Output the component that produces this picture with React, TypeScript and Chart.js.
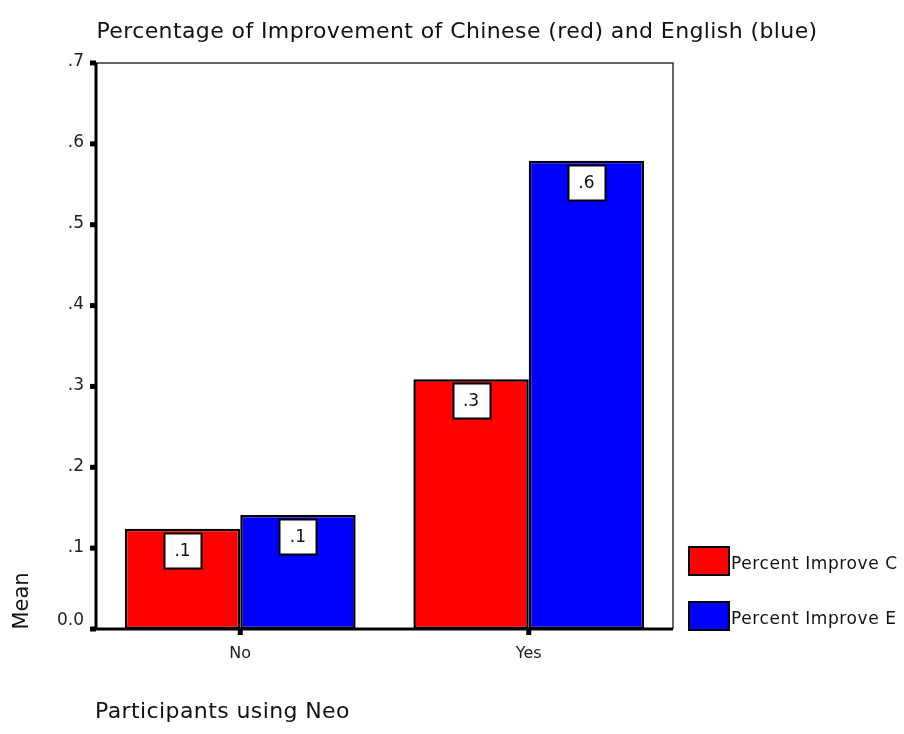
import React, { useEffect, useRef } from "react";
import { Chart, registerables } from "chart.js";
Chart.register(...registerables);

const categories = ["No", "Yes"];
const chineseMeans = [0.124, 0.309];
const englishMeans = [0.141, 0.579];
const seriesLabels = ["Percent Improve C", "Percent Improve E"];
const seriesColors = ["#ff0000", "#0000ff"];
const yTicks = [0, 0.1, 0.2, 0.3, 0.4, 0.5, 0.6, 0.7];
const titleText = "Percentage of Improvement of Chinese (red) and English (blue)";
const xAxisTitle = "Participants using Neo";
const yAxisTitle = "Mean";

const FONT = '"DejaVu Sans", Verdana, sans-serif';

function fmt(v: number): string {
  if (Math.abs(v) < 1e-9) return "0.0";
  return v.toFixed(1).replace(/^0/, "");
}

const decorPlugin = {
  id: "decor",
  afterDatasetsDraw(chart: any) {
    const ctx = chart.ctx;
    ctx.save();
    chart.data.datasets.forEach((ds: any, di: number) => {
      const meta = chart.getDatasetMeta(di);
      meta.data.forEach((bar: any, i: number) => {
        const w = 37, h = 35;
        const x = Math.round(bar.x - w / 2) + 0.5;
        const y = Math.round(bar.y + 4) + 0.5;
        ctx.fillStyle = "#ffffff";
        ctx.fillRect(x, y, w, h);
        ctx.strokeStyle = "#000";
        ctx.lineWidth = 2;
        ctx.strokeRect(x, y, w, h);
        ctx.fillStyle = "#111";
        ctx.font = `17px ${FONT}`;
        ctx.textAlign = "center";
        ctx.textBaseline = "middle";
        ctx.fillText(fmt(ds.data[i]), bar.x, y + h / 2 + 1);
      });
    });
    ctx.restore();
  },
  afterDraw(chart: any) {
    const ctx = chart.ctx;
    const { left, top, right, bottom } = chart.chartArea;
    const ys = chart.scales.y;
    const xs = chart.scales.x;
    ctx.save();
    ctx.strokeStyle = "#333";
    ctx.lineWidth = 1.5;
    ctx.beginPath();
    ctx.moveTo(left, top);
    ctx.lineTo(right, top);
    ctx.lineTo(right, bottom);
    ctx.stroke();
    ctx.strokeStyle = "#000";
    ctx.lineWidth = 3;
    ctx.beginPath();
    ctx.moveTo(left, top);
    ctx.lineTo(left, bottom);
    ctx.lineTo(right, bottom);
    ctx.stroke();

    // y ticks
    ctx.font = `17px ${FONT}`;
    ctx.textAlign = "right";
    ctx.textBaseline = "middle";
    yTicks.forEach((v) => {
      const py = ys.getPixelForValue(v);
      ctx.fillStyle = "#000";
      ctx.fillRect(left - 6, py - 2.5, 6, 5);
      ctx.fillStyle = "#222";
      ctx.fillText(fmt(v), left - 12, v === 0 ? py - 8 : py - 1);
    });
    // x ticks
    ctx.font = `16px ${FONT}`;
    ctx.textAlign = "center";
    categories.forEach((c, i) => {
      const px = xs.getPixelForValue(i);
      ctx.fillStyle = "#000";
      ctx.fillRect(px - 2.5, bottom, 5, 6);
      ctx.fillStyle = "#222";
      ctx.fillText(c, px, bottom + 25);
    });

    // title
    ctx.fillStyle = "#111";
    ctx.font = `22px ${FONT}`;
    (ctx as any).letterSpacing = "0.4px";
    ctx.textAlign = "center";
    ctx.fillText(titleText, 457, 32);
    ctx.textAlign = "left";
    ctx.fillText(xAxisTitle, 95, 712);
    (ctx as any).letterSpacing = "0px";
    ctx.save();
    ctx.translate(23, 601);
    ctx.rotate(-Math.PI / 2);
    ctx.textAlign = "center";
    ctx.font = `21px ${FONT}`;
    ctx.fillText(yAxisTitle, 0, 0);
    ctx.restore();

    // legend
    ctx.font = `17px ${FONT}`;
    (ctx as any).letterSpacing = "0.6px";
    ctx.textAlign = "left";
    ctx.textBaseline = "middle";
    chart.data.datasets.forEach((ds: any, di: number) => {
      const by = [547, 602][di];
      ctx.fillStyle = ds.backgroundColor;
      ctx.fillRect(689, by, 40, 28);
      ctx.strokeStyle = "#000";
      ctx.lineWidth = 2;
      ctx.strokeRect(689, by, 40, 28);
      ctx.fillStyle = "#111";
      ctx.fillText(ds.label, 731, by + 18);
    });
    (ctx as any).letterSpacing = "0px";
    ctx.restore();
  },
};

export default function App() {
  const ref = useRef<HTMLCanvasElement>(null);
  useEffect(() => {
    if (!ref.current) return;
    const chart = new Chart(ref.current, {
      type: "bar",
      data: {
        labels: categories,
        datasets: [
          {
            label: seriesLabels[0],
            data: chineseMeans,
            backgroundColor: seriesColors[0],
            borderColor: "#000",
            borderWidth: 2.5,
            borderSkipped: false,
          },
          {
            label: seriesLabels[1],
            data: englishMeans,
            backgroundColor: seriesColors[1],
            borderColor: "#000",
            borderWidth: 2.5,
            borderSkipped: false,
          },
        ],
      },
      options: {
        responsive: false,
        animation: false,
        events: [],
        layout: { padding: { left: 96, top: 63, right: 231, bottom: 105 } },
        plugins: {
          legend: { display: false },
          title: { display: false },
          tooltip: { enabled: false },
        },
        datasets: { bar: { categoryPercentage: 0.8, barPercentage: 1 } },
        scales: {
          x: { display: false, offset: true },
          y: { display: false, min: 0, max: 0.7 },
        },
      },
      plugins: [decorPlugin],
    });
    return () => chart.destroy();
  }, []);
  return (
    <div style={{ position: "fixed", left: 0, top: 0, width: 904, height: 734, background: "#fff" }}>
      <canvas ref={ref} width={904} height={734} />
    </div>
  );
}
